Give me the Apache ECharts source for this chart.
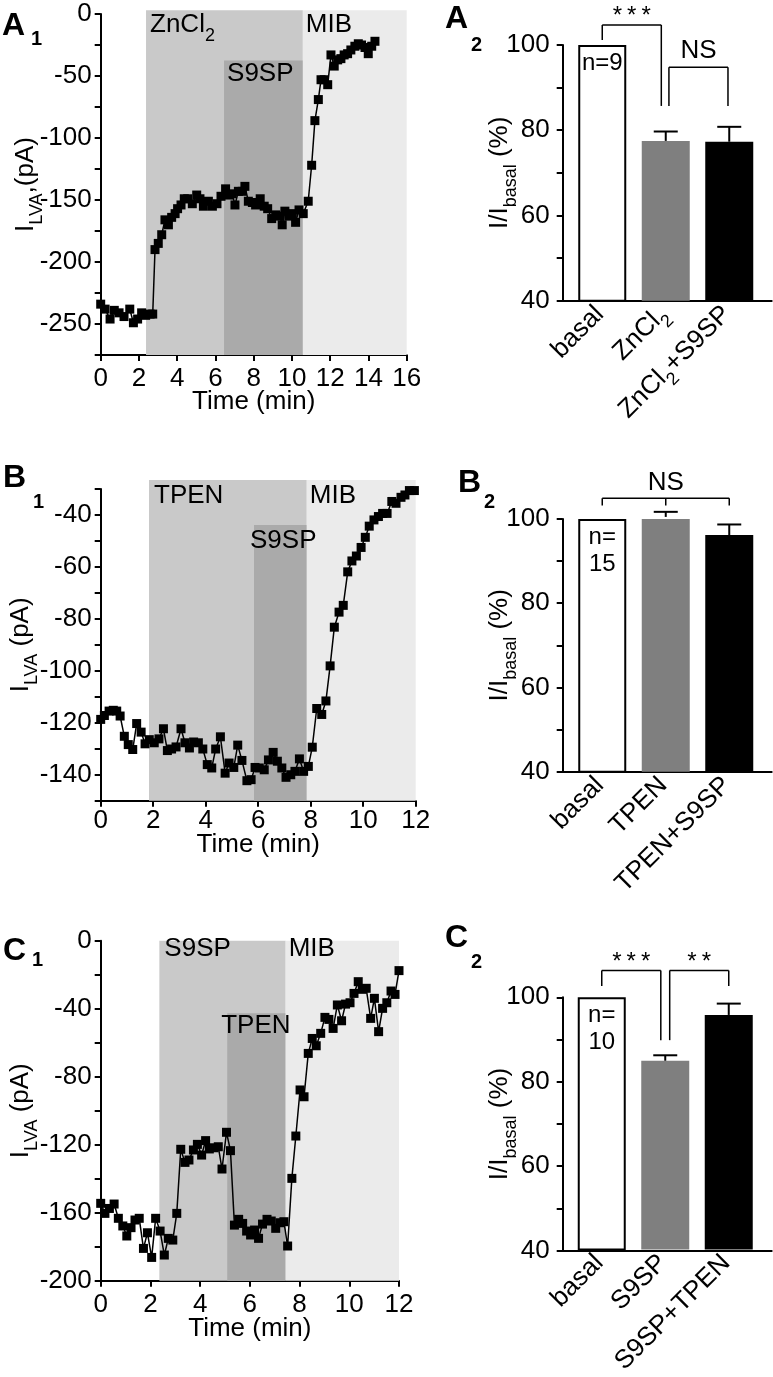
<!DOCTYPE html>
<html>
<head>
<meta charset="utf-8">
<script src="https://cdn.jsdelivr.net/npm/echarts@6/dist/echarts.min.js"></script>
<style>
  html, body { margin: 0; padding: 0; background: #fff; }
  #main { width: 773px; height: 1377px; }
</style>
</head>
<body>
<div id="main"></div>
<script>
// ---- A1: ZnCl2 then S9SP then MIB ----
const a1Time = [0, 0.23, 0.49, 0.71, 0.96, 1.22, 1.52, 1.71, 1.93, 2.14,
  2.35, 2.58, 2.72, 2.84, 3.01, 3.19, 3.36, 3.54, 3.71, 3.89,
  4.02, 4.2, 4.37, 4.55, 4.79, 5.02, 5.19, 5.37, 5.63, 5.84,
  6.08, 6.29, 6.53, 6.71, 6.88, 7.02, 7.2, 7.4, 7.54, 7.72,
  7.93, 8.1, 8.34, 8.55, 8.73, 8.94, 9.15, 9.37, 9.49, 9.63,
  9.84, 10.02, 10.19, 10.37, 10.59, 10.85, 11.03, 11.2, 11.38, 11.52,
  11.69, 11.87, 12.04, 12.21, 12.39, 12.56, 12.73, 12.91, 13.08, 13.29,
  13.47, 13.64, 13.82, 13.99, 14.17, 14.34];
const a1Current = [-234, -238, -246, -239, -241, -244, -238, -249, -246, -241,
  -243, -242, -242, -190, -185, -178, -166, -170, -164, -161,
  -157, -154, -149, -149, -153, -146, -149, -155, -151, -155,
  -153, -147, -141, -146, -145, -154, -143, -143, -139, -151,
  -152, -154, -149, -155, -157, -165, -162, -163, -170, -159,
  -163, -161, -168, -158, -161, -151, -122, -86, -69, -53,
  -53, -57, -33, -42, -37, -36, -33, -32, -29, -26,
  -24, -25, -27, -32, -26, -22];
// drug windows: start, end (min), top of shaded box (pA)
const a1Windows = [[2.37, 10.57, 3], [6.45, 10.57, -37.6], [10.57, 16, 3]];
const a1Drugs = ['ZnCl2', 'S9SP', 'MIB'];

// ---- B1: TPEN then S9SP then MIB ----
const b1Time = [0, 0.14, 0.32, 0.48, 0.61, 0.74, 0.9, 1.05, 1.22, 1.37,
  1.54, 1.69, 1.85, 2.04, 2.22, 2.39, 2.54, 2.7, 2.87, 3.06,
  3.21, 3.38, 3.54, 3.72, 3.89, 4.06, 4.23, 4.38, 4.56, 4.74,
  4.89, 5.07, 5.22, 5.38, 5.57, 5.73, 5.88, 6.04, 6.23, 6.39,
  6.57, 6.73, 6.9, 7.06, 7.24, 7.4, 7.57, 7.73, 7.91, 8.06,
  8.23, 8.42, 8.58, 8.74, 8.9, 9.08, 9.24, 9.41, 9.57, 9.74,
  9.92, 10.08, 10.23, 10.41, 10.58, 10.74, 10.91, 11.09, 11.25, 11.44,
  11.59, 11.76, 11.95];
const b1Current = [-118.7, -117.2, -115.5, -115.2, -115.5, -117.4, -125.2, -128.4, -130.3, -120.3,
  -123.6, -128.1, -126.5, -127.7, -126.2, -122.3, -130.7, -130.1, -129.3, -122.3,
  -127.7, -129.7, -127.4, -127.7, -130.1, -136.1, -137.4, -130.1, -125.4, -139.4,
  -135.5, -137.2, -128.6, -134.5, -142.3, -141.9, -137.2, -137.4, -138.1, -134.3,
  -131.4, -134.8, -137.4, -141, -140, -138.7, -133.9, -138.7, -136.8, -129.4,
  -114.5, -116.8, -111.6, -98.1, -83.2, -77.4, -74.8, -61.9, -57.7, -55.8,
  -52.5, -48.6, -44.3, -41.9, -40.6, -39.4, -39.4, -34.8, -35.5, -33.2,
  -32.3, -30.6, -30.6];
const b1Windows = [[1.84, 7.85, -26.5], [5.84, 7.85, -43.9], [7.85, 12, -26.5]];
const b1Drugs = ['TPEN', 'S9SP', 'MIB'];

// ---- C1: S9SP then TPEN then MIB ----
const c1Time = [0, 0.17, 0.35, 0.54, 0.71, 0.89, 1.05, 1.22, 1.38, 1.55,
  1.72, 1.88, 2.05, 2.21, 2.39, 2.56, 2.72, 2.9, 3.06, 3.22,
  3.39, 3.55, 3.73, 3.89, 4.06, 4.22, 4.37, 4.56, 4.73, 4.88,
  5.06, 5.22, 5.38, 5.55, 5.71, 5.87, 6.03, 6.19, 6.35, 6.51,
  6.69, 6.86, 7.04, 7.21, 7.37, 7.52, 7.69, 7.85, 8.02, 8.18,
  8.35, 8.51, 8.67, 8.85, 9.02, 9.18, 9.35, 9.52, 9.69, 9.85,
  10.03, 10.19, 10.36, 10.52, 10.68, 10.86, 11.01, 11.18, 11.34, 11.51,
  11.68, 11.84, 12.0];
const c1Current = [-154.5, -160.4, -157.5, -154.9, -163.3, -167.8, -173.7, -168.8, -164.3, -163.3,
  -181, -171.8, -186.3, -163.3, -170.8, -184.9, -175.1, -176.1, -160.4, -122.7,
  -130.4, -129, -123.1, -119.8, -126.1, -117.6, -122.5, -121.8, -121.2, -134.3,
  -112.7, -123.5, -167.3, -163.9, -166.3, -170.8, -173.1, -170.2, -175.1, -166.7,
  -163.9, -164.9, -169.2, -165.9, -165.3, -179.6, -139.8, -114.9, -87.8, -91.8,
  -66.3, -57.5, -61.8, -54.5, -45.1, -46.3, -51.6, -37.8, -47.1, -37.3,
  -36.5, -31, -24.1, -28.6, -28, -45.7, -33.9, -53.5, -39.8, -36.5,
  -29.6, -31.6, -17.6];
const c1Windows = [[2.36, 7.44, 0], [5.09, 7.44, -42.7], [7.44, 12, 0]];
const c1Drugs = ['S9SP', 'TPEN', 'MIB'];

// ---- summary bars (% of basal) ----
const a2Groups = ['basal', 'ZnCl2', 'ZnCl2+S9SP'];
const a2Mean = [100, 77.5, 77.3];
const a2Sem = [0, 2.2, 3.5];
const a2N = 'n=9';
// bracket: [leg positions (category units), leg ends (%), bracket top (%)]
const a2Brackets = [[[0, 0.93], [101.2, 85.7], 104.7], [[1.05, 1.98], [85.7, 85.7], 94.8]];
const a2Marks = ['***', 'NS'];

const b2Groups = ['basal', 'TPEN', 'TPEN+S9SP'];
const b2Mean = [100, 100.5, 96.2];
const b2Sem = [0, 1.2, 2.5];
const b2N = 'n=\n15';
const b2Brackets = [[[0, 1, 2], [103.2, 103.2, 103.2], 104.9]];
const b2Marks = ['NS'];

const c2Groups = ['basal', 'S9SP', 'S9SP+TPEN'];
const c2Mean = [100, 84.9, 95.8];
const c2Sem = [0, 1.3, 2.7];
const c2N = 'n=\n10';
const c2Brackets = [[[0, 0.93], [102.7, 89.8], 106.4], [[1.07, 2], [89.8, 102.7], 106.4]];
const c2Marks = ['***', '**'];

// ---- styling ----
const FONT = 'Liberation Sans, Arial, Helvetica, sans-serif';
const FS = 26;
const shadeColors = ['#c9c9c9', '#aaaaaa', '#ebebeb'];
const barColors = ['#ffffff', '#7f7f7f', '#000000'];
const axisLine = { show: true, onZero: false, lineStyle: { color: '#000', width: 2 } };
const axisTick = { show: true, length: 6, lineStyle: { color: '#000', width: 2 } };

function subRich(size) {
  return {
    n: { fontSize: size, fontFamily: FONT, color: '#000', verticalAlign: 'bottom', padding: [0, 0, 7, 0] },
    s: { fontSize: Math.round(size * 0.68), fontFamily: FONT, color: '#000', verticalAlign: 'bottom' }
  };
}
function richName(s) {
  return s.split('ZnCl2').map(p => (p ? '{n|' + p + '}' : '')).join('{n|ZnCl}{s|2}');
}

const grids = [], xAxes = [], yAxes = [], series = [], graphics = [];

function addTrace(p) {
  const gi = grids.length;
  grids.push({ left: p.left, top: p.top, width: p.width, height: p.height });
  xAxes.push({
    gridIndex: gi, type: 'value', min: 0, max: p.xMax, interval: 2,
    axisLine, axisTick, splitLine: { show: false },
    axisLabel: { color: '#000', fontSize: FS, fontFamily: FONT, margin: p.xLabelMargin },
    name: 'Time (min)', nameLocation: 'middle', nameGap: p.xNameGap, nameMoveOverlap: false,
    nameTextStyle: { color: '#000', fontSize: FS, fontFamily: FONT }
  });
  yAxes.push({
    gridIndex: gi, type: 'value', min: p.yMin, max: p.yMax, interval: p.yTick,
    axisLine, axisTick, splitLine: { show: false },
    axisLabel: {
      color: '#000', fontSize: FS, fontFamily: FONT, margin: 9,
      formatter: v => (v % p.yLabelStep === 0 ? String(v) : '')
    },
    name: p.yName, nameLocation: 'middle', nameRotate: 90, nameGap: p.yNameGap, nameMoveOverlap: false,
    nameTextStyle: { rich: subRich(FS) }
  });
  // shaded drug windows with their names
  series.push({
    type: 'custom', xAxisIndex: gi, yAxisIndex: gi, z: 1, silent: true,
    data: p.windows.map(w => [w[0], w[2]]),
    renderItem(params, api) {
      const w = p.windows[params.dataIndex];
      const a = api.coord([w[0], w[2]]);
      const b = api.coord([w[1], p.yMin]);
      const off = p.textOffset[params.dataIndex];
      return {
        type: 'group',
        children: [
          { type: 'rect', shape: { x: a[0], y: a[1], width: b[0] - a[0], height: b[1] - a[1] },
            style: { fill: shadeColors[params.dataIndex] } },
          { type: 'text', x: a[0] + off[0], y: a[1] + off[1], z2: 10,
            style: { text: richName(p.drugs[params.dataIndex]), rich: subRich(FS),
                     verticalAlign: 'middle', align: 'left' } }
        ]
      };
    }
  });
  series.push({
    type: 'line', xAxisIndex: gi, yAxisIndex: gi, z: 3,
    data: p.time.map((t, i) => [t, p.current[i]]),
    symbol: 'rect', symbolSize: 9, showAllSymbol: true,
    itemStyle: { color: '#000' }, lineStyle: { color: '#000', width: 1.5 }
  });
}

function addBars(p) {
  // axis frame
  const ai = grids.length;
  grids.push({ left: p.axisLeft, top: p.top, width: p.axisWidth, height: p.height });
  xAxes.push({
    gridIndex: ai, type: 'value', min: 0, max: 1, axisLine,
    axisTick: { show: false }, axisLabel: { show: false }, splitLine: { show: false }
  });
  yAxes.push({
    gridIndex: ai, type: 'value', min: 40, max: 100, interval: 10,
    axisLine, axisTick, splitLine: { show: false },
    axisLabel: { color: '#000', fontSize: FS, fontFamily: FONT, margin: 13,
                 formatter: v => (v % 20 === 0 ? String(v) : '') },
    name: '{n|I/I}{s|basal}{n| (%)}', nameLocation: 'middle', nameRotate: 90, nameGap: 43,
    nameMoveOverlap: false, nameTextStyle: { rich: subRich(FS) }
  });
  // bars
  const bi = grids.length;
  grids.push({ left: p.barLeft, top: p.top, width: p.barWidth, height: p.height });
  xAxes.push({
    gridIndex: bi, type: 'category', data: p.groups,
    axisLine: { show: false }, axisTick: { show: false },
    axisLabel: { rotate: 45, margin: 12, formatter: v => richName(v), rich: subRich(FS) }
  });
  yAxes.push({ gridIndex: bi, type: 'value', min: 40, max: 100, show: false });
  series.push({
    type: 'bar', xAxisIndex: bi, yAxisIndex: bi, barWidth: 48, z: 2,
    data: p.mean.map((m, i) => ({
      value: m,
      itemStyle: i === 0
        ? { color: barColors[0], borderColor: '#000', borderWidth: 2 }
        : { color: barColors[i] },
      label: i === 0
        ? { show: true, position: 'insideTop', distance: 5, formatter: p.nText,
            color: '#000', fontSize: 24, fontFamily: FONT, lineHeight: 27 }
        : { show: false }
    }))
  });
  // SEM (upper whisker only)
  series.push({
    type: 'custom', xAxisIndex: bi, yAxisIndex: bi, z: 3, silent: true,
    data: p.mean.map((m, i) => [i, m + p.sem[i]]),
    renderItem(params, api) {
      const i = params.dataIndex;
      if (!p.sem[i]) return null;
      const base = api.coord([i, p.mean[i]]);
      const top = api.coord([i, p.mean[i] + p.sem[i]]);
      const st = { stroke: '#000', lineWidth: 2 };
      return {
        type: 'group',
        children: [
          { type: 'line', shape: { x1: top[0], y1: base[1], x2: top[0], y2: top[1] }, style: st },
          { type: 'line', shape: { x1: top[0] - 12, y1: top[1], x2: top[0] + 12, y2: top[1] }, style: st }
        ]
      };
    }
  });
  // significance brackets
  series.push({
    type: 'custom', xAxisIndex: bi, yAxisIndex: bi, z: 4, silent: true,
    data: p.brackets.map(b => [0, b[2]]),
    renderItem(params, api) {
      const br = p.brackets[params.dataIndex];
      const mark = p.marks[params.dataIndex];
      const c0 = api.coord([0, br[2]]);
      const band = api.coord([1, br[2]])[0] - c0[0];
      const px = x => c0[0] + x * band;
      const yTop = c0[1];
      const xs = br[0];
      const st = { stroke: '#000', lineWidth: 1.5, fill: null };
      const kids = [{ type: 'line', shape: { x1: px(xs[0]), y1: yTop, x2: px(xs[xs.length - 1]), y2: yTop }, style: st }];
      xs.forEach((x, k) => {
        kids.push({ type: 'line', shape: { x1: px(x), y1: yTop, x2: px(x), y2: api.coord([0, br[1][k]])[1] }, style: st });
      });
      const star = mark.indexOf('*') >= 0;
      kids.push({
        type: 'text', x: (px(xs[0]) + px(xs[xs.length - 1])) / 2, y: yTop - (star ? 7 : 16),
        style: { text: mark, fill: '#000', align: 'center', verticalAlign: 'middle',
                 fontSize: star ? 24 : FS, fontFamily: star ? 'Liberation Mono, monospace' : FONT }
      });
      return { type: 'group', children: kids };
    }
  });
}

// letter + subscript panel tag; y values are glyph tops
function panelLabel(letter, num, x, capTop, sx, subTop) {
  graphics.push({ type: 'text', x: x, y: capTop - 5,
    style: { text: letter, fontSize: 32, fontWeight: 'bold', fontFamily: FONT, fill: '#000',
             verticalAlign: 'top', align: 'left' } });
  graphics.push({ type: 'text', x: sx, y: subTop - 3,
    style: { text: num, fontSize: 20, fontWeight: 'bold', fontFamily: FONT, fill: '#000',
             verticalAlign: 'top', align: 'left' } });
}

addTrace({
  left: 100.7, top: 14, width: 306, height: 341, xMax: 16,
  yMin: -275, yMax: 0, yTick: 25, yLabelStep: 50,
  yName: '{n|I}{s|LVA}{n|,(pA)}', yNameGap: 55, xLabelMargin: 11, xNameGap: 34,
  time: a1Time, current: a1Current, windows: a1Windows, drugs: a1Drugs,
  textOffset: [[4, 18], [3, 17], [3, 18]]
});
addTrace({
  left: 100.7, top: 489, width: 315, height: 311.7, xMax: 12,
  yMin: -150, yMax: -30, yTick: 10, yLabelStep: 20,
  yName: '{n|I}{s|LVA}{n| (pA)}', yNameGap: 60, xLabelMargin: 7, xNameGap: 31,
  time: b1Time, current: b1Current, windows: b1Windows, drugs: b1Drugs,
  textOffset: [[5, 19], [-4, 19], [3, 19]]
});
addTrace({
  left: 100.7, top: 940.7, width: 298.3, height: 340, xMax: 12,
  yMin: -200, yMax: 0, yTick: 20, yLabelStep: 40,
  yName: '{n|I}{s|LVA}{n| (pA)}', yNameGap: 60, xLabelMargin: 11, xNameGap: 35,
  time: c1Time, current: c1Current, windows: c1Windows, drugs: c1Drugs,
  textOffset: [[5, 12], [-6, 16], [3, 12]]
});

addBars({ axisLeft: 562.7, axisWidth: 209, barLeft: 570.5, barWidth: 190.5, top: 45, height: 255.7,
  groups: a2Groups, mean: a2Mean, sem: a2Sem, nText: a2N, brackets: a2Brackets, marks: a2Marks });
addBars({ axisLeft: 562.7, axisWidth: 209, barLeft: 570.5, barWidth: 190.5, top: 519, height: 252.7,
  groups: b2Groups, mean: b2Mean, sem: b2Sem, nText: b2N, brackets: b2Brackets, marks: b2Marks });
addBars({ axisLeft: 562.7, axisWidth: 209, barLeft: 570, barWidth: 190.5, top: 997.3, height: 253.4,
  groups: c2Groups, mean: c2Mean, sem: c2Sem, nText: c2N, brackets: c2Brackets, marks: c2Marks });

panelLabel('A', '1', 2, 15, 31, 32);
panelLabel('A', '2', 445, 8, 471, 38);
panelLabel('B', '1', 3, 467, 33, 495);
panelLabel('B', '2', 458, 472, 484, 495);
panelLabel('C', '1', 3, 940, 32, 953);
panelLabel('C', '2', 445, 927, 471, 955);

const chart = echarts.init(document.getElementById('main'), null, { renderer: 'canvas' });
chart.setOption({
  animation: false,
  backgroundColor: '#fff',
  textStyle: { fontFamily: FONT, color: '#000' },
  grid: grids,
  xAxis: xAxes,
  yAxis: yAxes,
  series: series,
  graphic: graphics
});
</script>
</body>
</html>
